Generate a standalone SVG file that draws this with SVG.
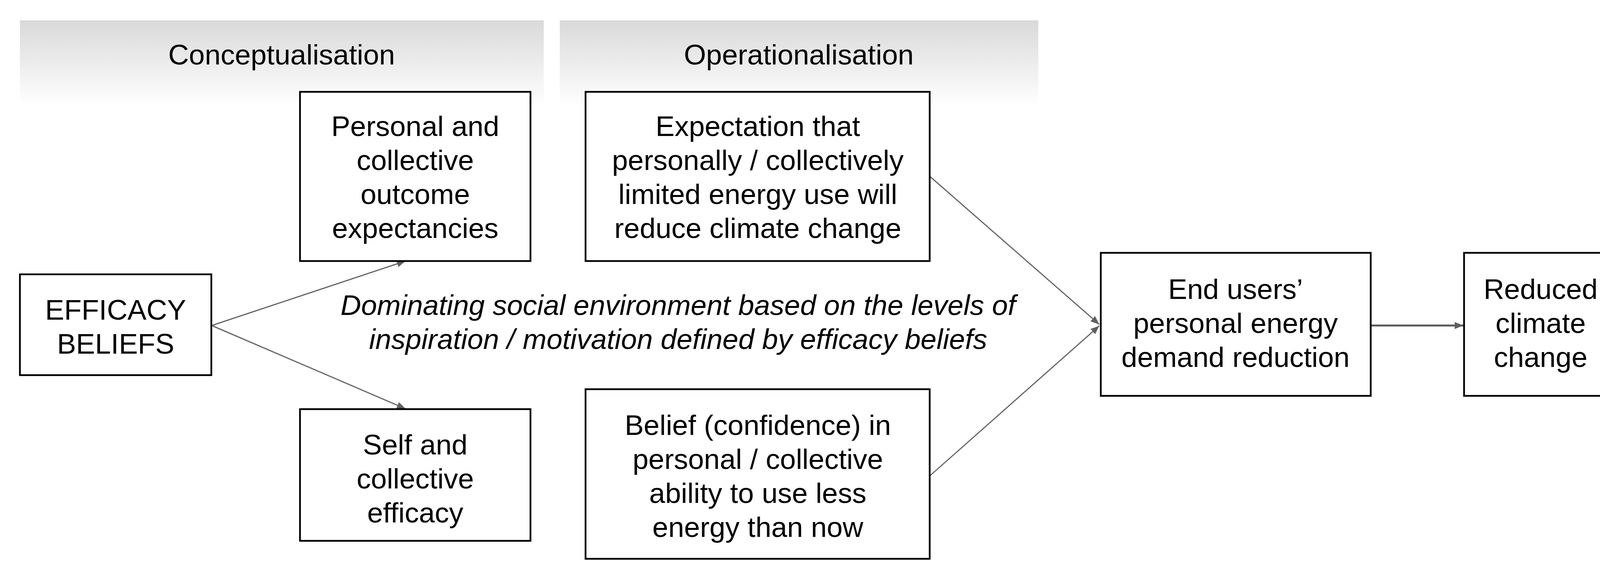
<svg xmlns="http://www.w3.org/2000/svg" width="4224" height="1474" viewBox="0 0 4224 1474">
  <defs>
    <linearGradient id="hdr" x1="0" y1="0" x2="0" y2="1">
      <stop offset="0" stop-color="#d9d9d9"/>
      <stop offset="1" stop-color="#ffffff"/>
    </linearGradient>
    <marker id="arr" markerUnits="userSpaceOnUse" markerWidth="24" markerHeight="20" refX="22" refY="9" orient="auto">
      <path d="M0,0 L22,9 L0,18 z" fill="#5f5f5f"/>
    </marker>
    <style>
      .box { fill: #ffffff; stroke: #000000; stroke-width: 4.5; }
      .hdr { fill: url(#hdr); stroke: none; }
      .t { font-family: "Liberation Sans", Arial, sans-serif; font-size: 73px; fill: #000000; text-anchor: middle; }
      .it { font-style: italic; }
      .conn { stroke: #666666; stroke-width: 3; fill: none; marker-end: url(#arr); }
      .conn2 { stroke: #5a5a5a; stroke-width: 5; fill: none; marker-end: url(#arr); }
    </style>
  </defs>
  <rect width="4224" height="1474" fill="#ffffff"/>

  <g id="header-conceptualisation">
    <rect class="hdr" x="51" y="52" width="1341" height="218"/>
    <text class="t" x="721" y="165">Conceptualisation</text>
  </g>
  <g id="header-operationalisation">
    <rect class="hdr" x="1433" y="52" width="1225" height="218"/>
    <text class="t" x="2045" y="165">Operationalisation</text>
  </g>

  <g id="connectors">
    <line class="conn" x1="542" y1="833" x2="1038" y2="668"/>
    <line class="conn" x1="542" y1="833" x2="1038" y2="1046"/>
    <line class="conn" x1="2380" y1="451" x2="2814" y2="830"/>
    <line class="conn" x1="2380" y1="1218" x2="2814" y2="834"/>
    <line class="conn2" x1="3509" y1="833" x2="3746" y2="833"/>
  </g>

  <g id="node-efficacy-beliefs">
    <rect class="box" x="51" y="702" width="490" height="258"/>
    <text class="t" x="296" y="818">EFFICACY</text>
    <text class="t" x="296" y="905">BELIEFS</text>
  </g>
  <g id="node-outcome-expectancies">
    <rect class="box" x="768" y="235" width="590" height="433"/>
    <text class="t" x="1063" y="348">Personal and</text>
    <text class="t" x="1063" y="435">collective</text>
    <text class="t" x="1063" y="522">outcome</text>
    <text class="t" x="1063" y="609">expectancies</text>
  </g>
  <g id="node-self-collective-efficacy">
    <rect class="box" x="768" y="1047" width="590" height="337"/>
    <text class="t" x="1063" y="1163">Self and</text>
    <text class="t" x="1063" y="1250">collective</text>
    <text class="t" x="1063" y="1337">efficacy</text>
  </g>
  <g id="node-expectation">
    <rect class="box" x="1499" y="235" width="881" height="433"/>
    <text class="t" x="1940" y="348">Expectation that</text>
    <text class="t" x="1940" y="435">personally / collectively</text>
    <text class="t" x="1940" y="522">limited energy use will</text>
    <text class="t" x="1940" y="609">reduce climate change</text>
  </g>
  <g id="node-belief">
    <rect class="box" x="1499" y="996" width="881" height="434"/>
    <text class="t" x="1940" y="1113">Belief (confidence) in</text>
    <text class="t" x="1940" y="1200">personal / collective</text>
    <text class="t" x="1940" y="1287">ability to use less</text>
    <text class="t" x="1940" y="1374">energy than now</text>
  </g>
  <g id="node-end-users">
    <rect class="box" x="2818" y="647" width="691" height="366"/>
    <text class="t" x="3163" y="765">End users’</text>
    <text class="t" x="3163" y="852">personal energy</text>
    <text class="t" x="3163" y="939">demand reduction</text>
  </g>
  <g id="node-reduced-climate-change">
    <rect class="box" x="3748" y="647" width="429" height="366"/>
    <text class="t" x="3944" y="765">Reduced</text>
    <text class="t" x="3944" y="852">climate</text>
    <text class="t" x="3944" y="939">change</text>
  </g>

  <g id="label-social-environment">
    <text class="t it" x="1736" y="806">Dominating social environment based on the levels of</text>
    <text class="t it" x="1736" y="893">inspiration / motivation defined by efficacy beliefs</text>
  </g>
</svg>
